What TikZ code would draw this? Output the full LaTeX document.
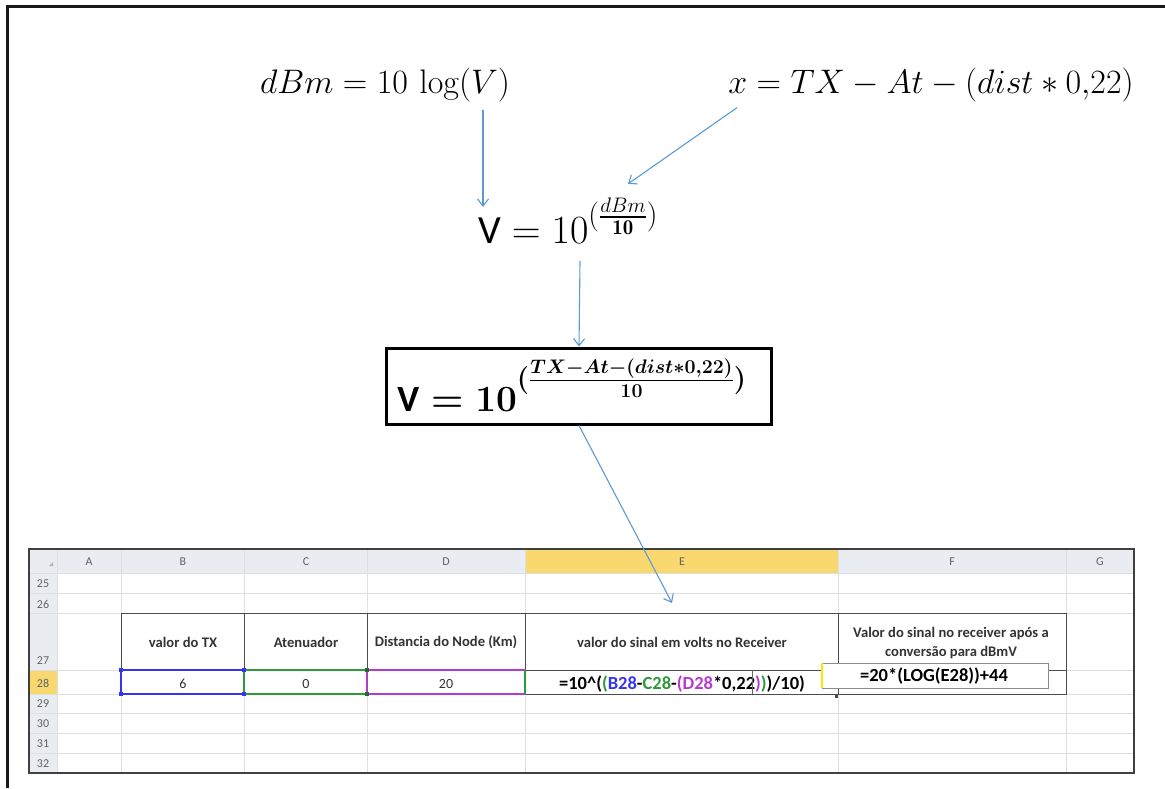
\RequirePackage{fix-cm}
\documentclass[tikz,border=0pt]{standalone}
\usepackage{amsmath,amssymb}
\usepackage{bm}
\usepackage{fontspec}
\newfontfamily\xlfont{Carlito}
\usetikzlibrary{arrows.meta, positioning, calc}
\definecolor{flowblue}{HTML}{5B9BD5}
\definecolor{gridgray}{HTML}{DDE0E3}
\definecolor{hdrgray}{HTML}{E9ECF0}
\definecolor{hdrtext}{HTML}{5F6368}
\definecolor{selyellow}{HTML}{F9D86F}
\definecolor{refblue}{HTML}{3535F0}
\definecolor{refgreen}{HTML}{2F9A3A}
\definecolor{refmagenta}{HTML}{B63AD0}
\tikzset{
  eqnode/.style   = {inner sep=0pt, anchor=base, font=\fontsize{34}{38}\selectfont},
  eqframe/.style  = {draw=black, line width=3pt, minimum width=385pt,
                     minimum height=76pt, inner sep=0pt},
  cellbox/.style  = {draw=black!70, line width=0.9pt},
}

\begin{document}
\begin{tikzpicture}[
            x=1pt, y=-1pt,
            >={Straight Barb[length=7pt, width=11pt]},
            flow/.style  ={->, draw=flowblue, line width=1.1pt},
            grid/.style  ={draw=gridgray, line width=0.8pt},
            colhdr/.style={font=\xlfont\fontsize{12}{14}\selectfont, text=hdrtext, inner sep=0pt},
            rowhdr/.style={font=\xlfont\fontsize{12}{14}\selectfont, text=hdrtext, inner sep=0pt},
            celltxt/.style={font=\xlfont\bfseries\fontsize{14.6}{19.5}\selectfont, text=black!80,
                    align=center, inner sep=0pt},
            valtxt/.style={font=\xlfont\fontsize{14}{16}\selectfont, text=black!80, inner sep=0pt},
            fmltxt/.style={font=\xlfont\bfseries\fontsize{18.5}{20}\selectfont, inner sep=0pt},
            selbox/.style={line width=1.2pt},
            handle/.style={minimum size=3.5pt, inner sep=0pt}
        ]
        \useasboundingbox (0,0) rectangle (1165,788);
        \fill[white] (0,0) rectangle (1165,788);
        \draw[line width=3pt, black!90] (7,788) -- (7,6) -- (1165,6);

        %% --- Formulas ------------------------------------------------------
        \node[eqnode] (eqdbm) at (385,93) {$dBm = 10\,\log(V)$};
        \node[eqnode] (eqx) at (931,93) {$x = TX - At - (dist * 0{,}22)$};
        \node[eqnode, font=\fontsize{40}{44}\selectfont] (eqv) at (568,243)
        {$\text{\xlfont V} = 10^{\raisebox{4pt}{\fontsize{30}{32}\selectfont$(\frac{dBm}{\mathbf{10}})$}}$};

        \node[eqframe] (eqbox) at (579,386) {};
        \node[eqnode, font=\fontsize{37}{40}\selectfont\boldmath] (eqboxtxt) at (572,411)
        {$\text{\xlfont\bfseries V} = \mathbf{10}^{\raisebox{10pt}{\fontsize{28}{30}\selectfont\boldmath$(\frac{TX-At-(dist*0{,}22)}{\mathbf{10}})$}}$};

        %% --- Spreadsheet ---------------------------------------------------
        \fill[hdrgray] (29,549) rectangle (1134,573);
        \fill[hdrgray] (29,573) rectangle (57,773);
        \fill[selyellow] (525,549) rectangle (838,573);
        \fill[selyellow] (29,670) rectangle (57,694);
        \foreach \cx in {57,121,244,367,525,838,1066}
            \draw[grid] (\cx,549) -- (\cx,773);
        \foreach \cy in {573,593,613,670,694,713,733,753}
            \draw[grid] (29,\cy) -- (1134,\cy);
        \fill[black!30] (49,566) -- (53,566) -- (53,562) -- cycle;

        \foreach \lbl/\cx in {A/89, B/183, C/306, D/446, E/682, F/952, G/1100}
            \node[colhdr] (col\lbl) at (\cx,562) {\lbl};
        \foreach \r/\cy in {25/584, 26/604, 27/661, 28/683, 29/704, 30/724, 31/744, 32/764}
            \node[rowhdr] (row\r) at (43,\cy) {\r};

        % table rows 27-28
        \draw[cellbox] (121,613) rectangle (1066,694);
        \foreach \cx in {244,367,525,838}
            \draw[cellbox] (\cx,613) -- (\cx,694);
        \draw[cellbox] (121,670) -- (1066,670);

        \node[celltxt] (hdrtx)   at (183,642) {valor do TX};
        \node[celltxt] (hdratt)  at (306,642) {Atenuador};
        \node[celltxt] (hdrdist) at (446,642) {Distancia do Node (Km)};
        \node[celltxt] (hdrvolt) at (682,642) {valor do sinal em volts no Receiver};
        \node[celltxt] (hdrdbm) at (951,643)
        {Valor do sinal no receiver após a\\conversão para dBmV};

        % referenced cells of row 28
        \draw[selbox, refblue] (121,670) rectangle (244,694);
        \draw[selbox, refgreen] (244,670) rectangle (367,694);
        \draw[selbox, refmagenta] (367,670) rectangle (525,694);
        \draw[selbox, refgreen] (525,670) -- (525,694);
        \foreach \cx/\cy in {121/670, 121/694, 244/670, 244/694}
            \node[handle, fill=refblue] at (\cx,\cy) {};
        \foreach \cx/\cy in {367/670, 367/694}
            \node[handle, fill=refgreen!70!black] at (\cx,\cy) {};

        \node[valtxt] (valtx)   at (183,684) {6};
        \node[valtxt] (valatt)  at (306,684) {0};
        \node[valtxt] (valdist) at (446,684) {20};

        \node[fmltxt] (fmlvolt) at (682,684)
        {=10\^{}(\textcolor{refgreen}{(}\textcolor{refblue}{B28}-\textcolor{refgreen}{C28}-\textcolor{refmagenta}{(D28}*0,22\textcolor{refmagenta}{)}\textcolor{refgreen}{)})/10)};
        \draw[black!60, line width=0.8pt] (752,670) -- (752,694);
        \node[handle, fill=black!70, minimum size=3pt] (fillhandle) at (836,696) {};

        % formula being edited in F28
        \draw[fill=white, draw=black!45, line width=0.8pt] (822,663) rectangle (1048,688);
        \draw[draw=yellow!90!orange, line width=1.5pt] (822,663) -- (822,688);
        \node[fmltxt] (fmldbm) at (934,676) {=20*(LOG(E28))+44};

        \draw[line width=1.8pt, black!75] (29,549) rectangle (1134,773);

        %% --- Arrows ---------------------------------------------------------
        \coordinate (etarget) at (672,603);
        \draw[flow] ([xshift=98pt, yshift=-8pt]eqdbm.south) -- ([xshift=-85pt, yshift=-9pt]eqv.north);
        \draw[flow] ([xshift=-194pt, yshift=-6pt]eqx.south) -- ([xshift=60pt, yshift=14pt]eqv.north);
        \draw[flow] ([xshift=12pt, yshift=-18pt]eqv.south) -- (eqbox.north);
        \draw[flow] (eqbox.south) -- (etarget);

    \end{tikzpicture}
\end{document}
